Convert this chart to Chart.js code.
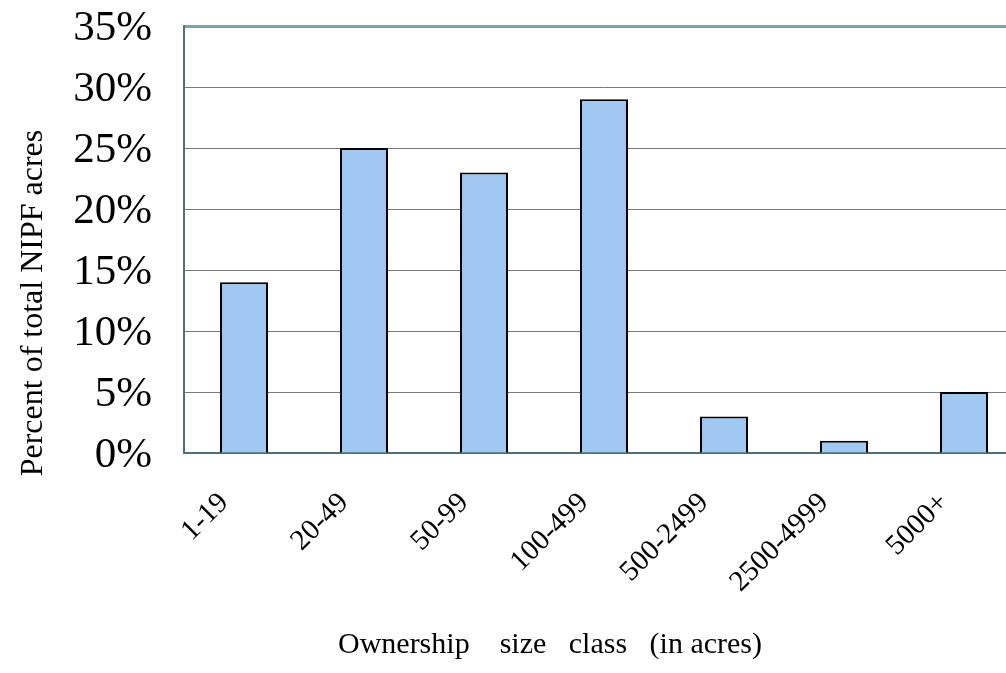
<!DOCTYPE html>
<html>
<head>
<meta charset="utf-8">
<script src="https://cdn.jsdelivr.net/npm/chart.js@4.4.1/dist/chart.umd.min.js"></script>
<style>
  html, body { margin: 0; padding: 0; background: #ffffff; overflow: hidden; }
  #wrap { width: 1030px; height: 673px; }
</style>
</head>
<body>
<div id="wrap"><canvas id="chart" width="1030" height="673"></canvas></div>
<script>
// Ownership size classes (acres) and share of total NIPF acreage (%)
const sizeClasses = ['1-19', '20-49', '50-99', '100-499', '500-2499', '2500-4999', '5000+'];
const percentAcres = [14, 25, 23, 29, 3, 1, 5];
const yTickValues = [0, 5, 10, 15, 20, 25, 30, 35];
const xAxisCaption = 'Ownership    size   class   (in acres)';
const yAxisCaption = 'Percent of total NIPF acres';

const serif = 'Liberation Serif, Times New Roman, serif';

// Axis captions, placed relative to the plot area
const axisCaptions = {
  id: 'axisCaptions',
  afterDraw(chart) {
    const { ctx, chartArea } = chart;
    ctx.save();
    ctx.fillStyle = '#000';
    ctx.textAlign = 'center';
    ctx.textBaseline = 'alphabetic';

    ctx.font = '30px ' + serif;
    ctx.fillText(xAxisCaption, chartArea.left + 366, chartArea.bottom + 200);

    ctx.font = '32px ' + serif;
    ctx.translate(chartArea.left - 142, chartArea.top + 277);
    ctx.rotate(-Math.PI / 2);
    ctx.fillText(yAxisCaption, 0, 0);
    ctx.restore();
  }
};

new Chart(document.getElementById('chart'), {
  type: 'bar',
  data: {
    labels: sizeClasses,
    datasets: [{
      data: percentAcres,
      backgroundColor: '#a0c8f0',
      borderColor: '#000000',
      borderWidth: 2,
      barPercentage: 0.4,
      categoryPercentage: 1.0
    }]
  },
  plugins: [axisCaptions],
  options: {
    responsive: false,
    animation: false,
    layout: { padding: { top: 26, right: 6, left: 0, bottom: 0 } },
    plugins: { legend: { display: false }, tooltip: { enabled: false } },
    scales: {
      x: {
        grid: { display: false, drawTicks: false },
        border: { display: true, color: '#4f7070', width: 2 },
        ticks: {
          color: '#000',
          font: { family: serif, size: 29 },
          minRotation: 45,
          maxRotation: 45,
          autoSkip: false,
          padding: 33,
          labelOffset: -20
        },
        afterFit(scale) {
          scale.height = 220;
          scale.paddingLeft = 0;
          scale.paddingRight = 0;
        }
      },
      y: {
        min: 0,
        max: 35,
        afterBuildTicks(scale) { scale.ticks = yTickValues.map(v => ({ value: v })); },
        grid: {
          drawTicks: false,
          color: ctx => (ctx.tick && ctx.tick.value === 35) ? '#7fa3a3' : '#7a7a7a',
          lineWidth: ctx => (ctx.tick && ctx.tick.value === 35) ? 3 : 1
        },
        border: { display: true, color: '#4f7070', width: 2 },
        ticks: {
          color: '#000',
          font: { family: serif, size: 43 },
          padding: 32,
          labelOffset: 3,
          callback: v => v + '%'
        },
        afterFit(scale) {
          scale.width = 184;
          scale.paddingTop = 0;
          scale.paddingBottom = 0;
        }
      }
    }
  }
});
</script>
</body>
</html>
